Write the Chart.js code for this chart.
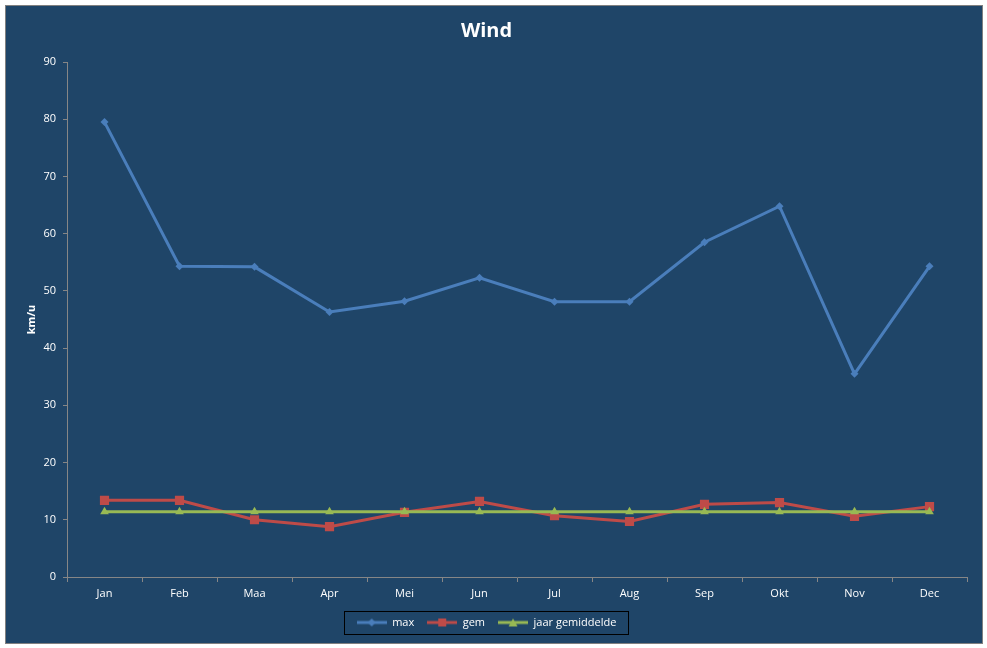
<!DOCTYPE html>
<html>
<head>
<meta charset="utf-8">
<title>Wind</title>
<script src="https://cdn.jsdelivr.net/npm/chart.js@4.4.1/dist/chart.umd.min.js"></script>
<style>
  html, body { margin: 0; padding: 0; background: #ffffff; }
  #frame {
    position: absolute; left: 5px; top: 5px;
    width: 976px; height: 637px;
    border: 1px solid #808080;
    background: #1F4568;
  }
  #windChart { display: block; }
</style>
</head>
<body>
<div id="frame"><canvas id="windChart" width="976" height="637"></canvas></div>
<script>
// waarden (km/u)
const maanden = ['Jan', 'Feb', 'Maa', 'Apr', 'Mei', 'Jun', 'Jul', 'Aug', 'Sep', 'Okt', 'Nov', 'Dec'];
const maxWind = [79.5, 54.3, 54.2, 46.3, 48.2, 52.3, 48.1, 48.1, 58.5, 64.8, 35.5, 54.3];
const gemWind = [13.4, 13.4, 10.0, 8.8, 11.3, 13.2, 10.7, 9.7, 12.7, 13.0, 10.6, 12.3];
const jaarGemiddelde = [11.4, 11.4, 11.4, 11.4, 11.4, 11.4, 11.4, 11.4, 11.4, 11.4, 11.4, 11.4];
const yTicks = [0, 10, 20, 30, 40, 50, 60, 70, 80, 90];

const BLAUW = '#4A7EBB';
const ROOD = '#BE4B48';
const GROEN = '#98B954';
const AS = '#868686';
const FONT = '"Open Sans", "Liberation Sans", sans-serif';

// klein icoontje voor de legenda: lijn met marker
function legendIcon(color, shape) {
    const c = document.createElement('canvas');
    c.width = 30; c.height = 12;
    const g = c.getContext('2d');
    g.strokeStyle = color;
    g.fillStyle = color;
    g.lineWidth = 3;
    g.beginPath();
    g.moveTo(0, 6); g.lineTo(30, 6);
    g.stroke();
    g.beginPath();
    if (shape === 'diamond') {
        g.moveTo(15, 2); g.lineTo(19, 6); g.lineTo(15, 10); g.lineTo(11, 6);
    } else if (shape === 'square') {
        g.rect(11, 2, 8, 8);
    } else {
        g.moveTo(15, 2); g.lineTo(19.5, 10); g.lineTo(10.5, 10);
    }
    g.closePath();
    g.fill();
    return c;
}

const iconen = {
    'max': legendIcon(BLAUW, 'diamond'),
    'gem': legendIcon(ROOD, 'square'),
    'jaar gemiddelde': legendIcon(GROEN, 'triangle')
};

// zwart kader rond de legenda
const legendaKader = {
    id: 'legendaKader',
    afterDraw(chart) {
        const boxes = chart.legend && chart.legend.legendHitBoxes;
        if (!boxes || !boxes.length) return;
        let l = Infinity, r = -Infinity, t = Infinity, b = -Infinity;
        boxes.forEach(h => {
            l = Math.min(l, h.left); r = Math.max(r, h.left + h.width);
            t = Math.min(t, h.top); b = Math.max(b, h.top + h.height);
        });
        const ctx = chart.ctx;
        ctx.save();
        ctx.strokeStyle = '#000000';
        ctx.lineWidth = 1;
        ctx.strokeRect(Math.round(l - 13) + 0.5, Math.round(t - 6) + 0.5,
                       Math.round(r - l + 24), Math.round(b - t + 12));
        ctx.restore();
    }
};

new Chart(document.getElementById('windChart').getContext('2d'), {
    type: 'line',
    data: {
        labels: maanden,
        datasets: [
            {
                label: 'jaar gemiddelde',
                data: jaarGemiddelde,
                borderColor: GROEN,
                backgroundColor: GROEN,
                borderWidth: 3,
                pointStyle: 'triangle',
                pointRadius: 5,
                pointBorderWidth: 0,
                tension: 0
            },
            {
                label: 'gem',
                data: gemWind,
                borderColor: ROOD,
                backgroundColor: ROOD,
                borderWidth: 3,
                pointStyle: 'rect',
                pointRadius: 6.5,
                pointBorderWidth: 0,
                tension: 0
            },
            {
                label: 'max',
                data: maxWind,
                borderColor: BLAUW,
                backgroundColor: BLAUW,
                borderWidth: 3,
                pointStyle: 'rectRot',
                pointRadius: 4,
                pointBorderWidth: 0,
                tension: 0
            }
        ]
    },
    options: {
        responsive: false,
        animation: false,
        layout: { padding: { left: 0, right: 15, top: 0, bottom: 5 } },
        plugins: {
            title: {
                display: true,
                text: 'Wind',
                color: '#FFFFFF',
                font: { family: FONT, size: 20, weight: 'bold' },
                padding: { top: 13, bottom: 19 }
            },
            legend: {
                position: 'bottom',
                reverse: true,
                labels: {
                    color: '#FFFFFF',
                    font: { family: FONT, size: 11 },
                    usePointStyle: true,
                    pointStyleWidth: 30,
                    padding: 13,
                    generateLabels(chart) {
                        const items = Chart.defaults.plugins.legend.labels.generateLabels(chart);
                        items.forEach(it => { it.pointStyle = iconen[it.text]; });
                        return items;
                    }
                }
            },
            tooltip: { enabled: false }
        },
        scales: {
            x: {
                offset: true,
                afterFit(scale) { scale.height = 27; },
                border: { color: AS, width: 1 },
                grid: { display: true, drawOnChartArea: false, drawTicks: true, tickLength: 5, color: AS, offset: true },
                ticks: { color: '#FFFFFF', font: { family: FONT, size: 11 }, padding: 5, maxRotation: 0 }
            },
            y: {
                min: 0,
                max: 90,
                afterFit(scale) { scale.width = 61; },
                afterBuildTicks(scale) { scale.ticks = yTicks.map(v => ({ value: v })); },
                border: { color: AS, width: 1 },
                grid: { display: true, drawOnChartArea: false, drawTicks: true, tickLength: 4, color: AS },
                ticks: { color: '#FFFFFF', font: { family: FONT, size: 11 }, padding: 7 },
                title: {
                    display: true,
                    text: 'km/u',
                    color: '#FFFFFF',
                    font: { family: FONT, size: 11, weight: 'bold' },
                    padding: { top: 19, bottom: 0 }
                }
            }
        }
    },
    plugins: [legendaKader]
});
</script>
</body>
</html>
